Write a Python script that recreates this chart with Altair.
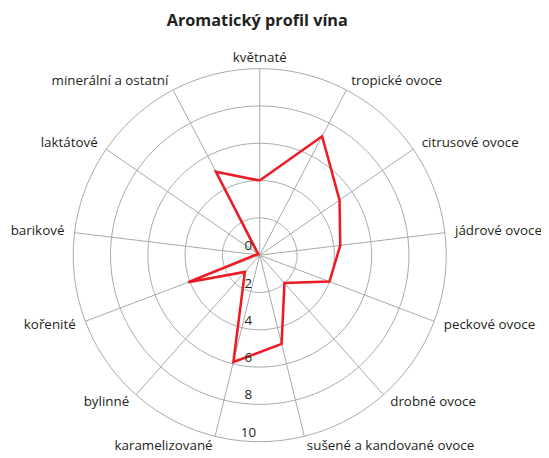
import altair as alt
import pandas as pd

# ---- data ----
categories = [
    "květnaté", "tropické ovoce", "citrusové ovoce", "jádrové ovoce",
    "peckové ovoce", "drobné ovoce", "sušené a kandované ovoce",
    "karamelizované", "bylinné", "kořenité", "barikové", "laktátové",
    "minerální a ostatní",
]
values = [4.0, 7.2, 5.2, 4.35, 4.0, 2.0, 4.9, 5.9, 1.2, 4.1, 0.2, 0.1, 5.05]
ring_values = [2, 4, 6, 8, 10]
tick_positions = [0, 2, 4, 6, 8, 10]
tick_labels = ["0", "2", "4", "6", "8", "10"]

N = len(categories)
R_MAX = 10
LABEL_R = 10.55
PX = 18.93  # pixels per unit

W, H = 533, 402
CX, CY = 255.5, 207.5  # polar centre inside plot area (pixels)

x_scale = alt.Scale(domain=[-CX / PX, (W - CX) / PX], nice=False, zero=False)
y_scale = alt.Scale(domain=[-(H - CY) / PX, CY / PX], nice=False, zero=False)

FONT = "Open Sans"
GRID = "#a8a8a8"
TXT = "#231f20"
FS = 13.6

# ---- tables ----
cat_df = pd.DataFrame({"cat": categories, "idx": list(range(N))})
val_df = pd.DataFrame({
    "idx": list(range(N)) + [0],
    "value": values + [values[0]],
    "ord": list(range(N + 1)),
})
ring_rows = []
for r in ring_values:
    for k in range(0, 361, 2):
        ring_rows.append({"ring": r, "deg": k})
ring_df = pd.DataFrame(ring_rows)
tick_df = pd.DataFrame({"pos": tick_positions, "lab": tick_labels})

ANG = f"datum.idx * 2 * PI / {N}"

X = lambda f: alt.X(f, type="quantitative", scale=x_scale, axis=None)
Y = lambda f: alt.Y(f, type="quantitative", scale=y_scale, axis=None)

rings = alt.Chart(ring_df).transform_calculate(
    x="datum.ring * sin(datum.deg * PI / 180)",
    y="datum.ring * cos(datum.deg * PI / 180)",
).mark_line(color=GRID, strokeWidth=1).encode(
    x=X("x"), y=Y("y"), detail="ring:N", order="deg:Q"
)

spokes = alt.Chart(cat_df).transform_calculate(
    x0="0", y0="0",
    x1=f"{R_MAX} * sin({ANG})", y1=f"{R_MAX} * cos({ANG})",
).mark_rule(color=GRID, strokeWidth=1).encode(
    x=X("x0"), y=Y("y0"), x2="x1:Q", y2="y1:Q"
)

series = alt.Chart(val_df).transform_calculate(
    x=f"datum.value * sin({ANG})", y=f"datum.value * cos({ANG})",
).mark_line(color="#ed1c24", strokeWidth=2.6, strokeJoin="miter").encode(
    x=X("x"), y=Y("y"), order="ord:Q"
)

ticks = alt.Chart(tick_df).transform_calculate(
    x="0", y="-datum.pos",
).mark_text(font=FONT, fontSize=FS, color=TXT, dx=-11.5, dy=-9,
            align="center", baseline="middle").encode(
    x=X("x"), y=Y("y"), text="lab:N"
)

lab_base = alt.Chart(cat_df).transform_calculate(
    lx=f"{LABEL_R} * sin({ANG})", ly=f"{LABEL_R} * cos({ANG})",
    s=f"sin({ANG})",
)


def labels(cond, align):
    return lab_base.transform_filter(cond).mark_text(
        font=FONT, fontSize=FS, color=TXT, align=align, baseline="middle"
    ).encode(x=X("lx"), y=Y("ly"), text="cat:N")


lab_r = labels("datum.s > 0.01", "left")
lab_l = labels("datum.s < -0.01", "right")
lab_c = labels("abs(datum.s) <= 0.01", "center")

chart = alt.layer(rings, spokes, series, ticks, lab_r, lab_l, lab_c).properties(
    width=W, height=H,
    title=alt.TitleParams(
        "Aromatický profil vína", font=FONT, fontSize=16.5, fontWeight="bold",
        color=TXT, anchor="middle", dx=-13.5, offset=22,
    ),
    autosize=alt.AutoSizeParams(type="none"),
    padding={"left": 0, "right": 8, "top": 40, "bottom": 8},
).configure_view(stroke=None)

chart.save("out.html", embed_options={"renderer": "svg", "actions": False})
